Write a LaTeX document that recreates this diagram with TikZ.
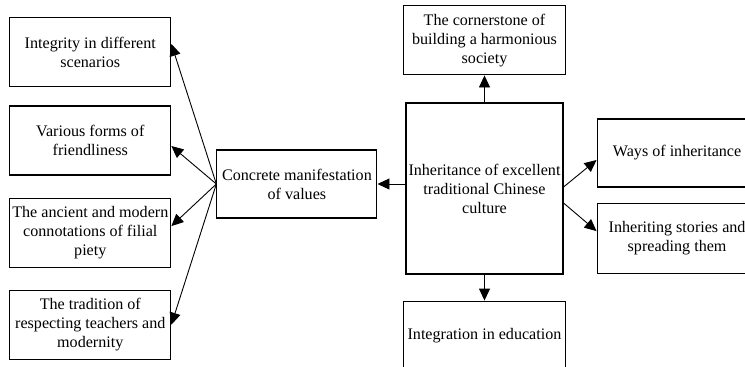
\documentclass[tikz,border=0pt]{standalone}
\usepackage{fontspec}
\setmainfont{Liberation Serif}
\usetikzlibrary{positioning, arrows.meta}

\begin{document}
\begin{tikzpicture}[-{Triangle[length=12pt,width=11pt]},x=1pt,y=1pt,
    line width=0.9pt,
    block node/.style={rectangle,draw,line width=1.1pt,align=center,inner sep=1pt,
      minimum width=161pt,minimum height=69pt,font=\fontsize{16.1}{19}\selectfont}]
    \path[use as bounding box,clip] (0,0) rectangle (745,-367);
    \node[block node,minimum width=157pt,minimum height=171pt] (main) at (484.5,-188.5)
      {Inheritance of excellent\\traditional Chinese\\culture};
    \node[block node,minimum width=162pt] (corner) [above=27pt of main]
      {The cornerstone of\\building a harmonious\\society};
    \node[block node,minimum width=162pt] (edu) [below=26pt of main] {Integration in education};
    \node[block node,minimum width=160pt,minimum height=68pt] (conc) [left=28pt of main,yshift=4.5pt]
      {Concrete manifestation\\of values};
    \node[block node,minimum width=160pt,minimum height=68pt] (ways) [right=33pt of main,yshift=35.5pt]
      {Ways of inheritance};
    \node[block node,minimum width=160pt,minimum height=70pt] (stories) [below=15pt of ways]
      {Inheriting stories and\\spreading them};
    \node[block node] (friend) [left=45pt of conc,yshift=43.5pt] {Various forms of\\friendliness};
    \node[block node] (honest) [above=18pt of friend] {Integrity in different\\scenarios};
    \node[block node] (piety) [below=22pt of friend] {The ancient and modern\\connotations of filial\\piety};
    \node[block node] (teach) [below=22pt of piety] {The tradition of\\respecting teachers and\\modernity};
    \draw (main) -- (corner);
    \draw (main) -- (edu);
    \draw (main.west |- conc.east) -- (conc.east);
    \draw ([yshift=1.5pt]main.east) -- ([yshift=-7pt]ways.west);
    \draw ([yshift=-14.5pt]main.east) -- ([yshift=7pt]stories.west);
    \foreach \n/\s in {honest/8.5,friend/-5.5,piety/6.5,teach/0}
      \draw (conc.west) -- ([yshift=\s pt]\n.east);
\end{tikzpicture}
\end{document}
